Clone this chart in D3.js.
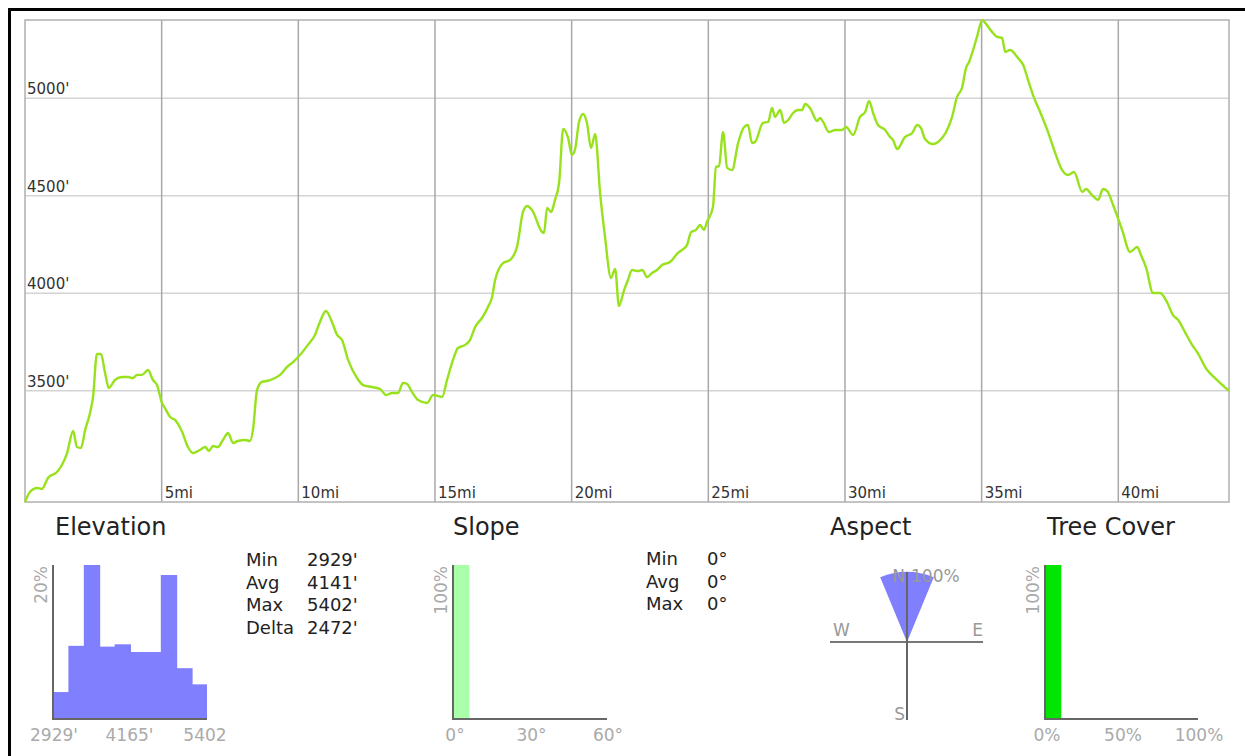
<!DOCTYPE html>
<html>
<head>
<meta charset="utf-8">
<script src="https://cdn.jsdelivr.net/npm/d3@7"></script>
<style>
  body { margin: 0; background: #fff; }
  svg { display: block; font-family: "DejaVu Sans", sans-serif; }
</style>
</head>
<body>
<svg id="chart" width="1245" height="756"></svg>
<script>
// elevation profile (miles, feet)
const distMi = [0.00,0.18,0.44,0.62,0.84,1.17,1.35,1.54,1.76,1.90,2.05,2.20,2.38,2.49,2.63,2.78,2.93,3.07,3.29,3.55,3.77,3.95,4.10,4.28,4.50,4.68,4.83,5.01,5.12,5.31,5.49,5.75,5.96,6.15,6.40,6.59,6.73,6.88,7.06,7.24,7.43,7.61,7.79,8.05,8.23,8.34,8.49,8.67,8.85,9.07,9.33,9.59,9.81,10.06,10.35,10.61,10.79,11.01,11.23,11.42,11.60,11.82,12.15,12.37,12.70,12.99,13.21,13.43,13.65,13.83,13.98,14.16,14.38,14.71,14.93,15.26,15.44,15.66,15.84,16.10,16.28,16.47,16.72,16.94,17.09,17.20,17.49,17.75,18.00,18.22,18.37,18.55,18.92,18.99,19.10,19.25,19.39,19.54,19.69,19.87,20.01,20.12,20.27,20.42,20.56,20.71,20.86,21.04,21.22,21.44,21.59,21.73,21.92,22.06,22.21,22.43,22.58,22.76,22.94,23.12,23.31,23.60,23.89,24.08,24.22,24.37,24.55,24.70,24.84,24.95,25.17,25.28,25.39,25.54,25.69,25.87,26.09,26.31,26.45,26.60,26.71,27.00,27.19,27.33,27.44,27.63,27.77,27.92,28.10,28.28,28.43,28.54,28.72,28.98,29.09,29.20,29.42,29.64,29.89,30.04,30.30,30.55,30.74,30.88,31.03,31.21,31.47,31.65,31.76,31.91,32.20,32.46,32.64,32.78,32.93,33.22,33.48,33.70,33.92,34.10,34.28,34.43,34.54,34.83,35.02,35.13,35.38,35.57,35.75,35.86,36.04,36.33,36.52,36.70,36.88,37.14,37.43,37.69,37.94,38.16,38.38,38.68,38.82,39.04,39.26,39.44,39.59,39.81,40.14,40.43,40.69,40.83,41.02,41.27,41.53,41.78,42.00,42.19,42.44,42.70,42.88,43.25,43.54,44.05];
const elevFt = [2929,2980,3001,2996,3052,3083,3119,3180,3293,3211,3206,3298,3386,3468,3688,3688,3591,3514,3555,3570,3570,3565,3581,3581,3606,3555,3529,3437,3411,3365,3350,3288,3211,3180,3196,3211,3191,3216,3211,3247,3283,3232,3242,3247,3242,3298,3504,3545,3550,3560,3581,3622,3647,3683,3735,3786,3853,3909,3853,3786,3760,3658,3565,3529,3519,3509,3478,3488,3488,3540,3534,3493,3452,3437,3478,3468,3555,3658,3719,3735,3760,3827,3873,3930,3981,4068,4155,4171,4237,4417,4448,4427,4314,4309,4438,4417,4479,4566,4843,4797,4710,4735,4879,4920,4874,4745,4817,4515,4289,4078,4125,3935,4017,4068,4119,4114,4119,4083,4104,4119,4145,4160,4207,4227,4248,4314,4325,4350,4325,4366,4443,4648,4653,4827,4643,4632,4771,4853,4863,4771,4776,4874,4879,4951,4905,4940,4874,4889,4925,4940,4940,4971,4951,4884,4899,4879,4827,4838,4838,4853,4812,4905,4930,4987,4925,4863,4838,4802,4786,4740,4802,4822,4863,4848,4792,4766,4786,4827,4905,5007,5053,5156,5187,5315,5402,5387,5341,5315,5310,5238,5248,5207,5171,5094,5017,4930,4827,4720,4633,4607,4622,4520,4535,4504,4479,4535,4525,4453,4325,4212,4237,4196,4130,4001,4001,3955,3888,3863,3801,3735,3699,3606,3565,3499];

const mileTicks = [5, 10, 15, 20, 25, 30, 35, 40];
const feetTicks = [3500, 4000, 4500, 5000];

// summary panels
const elevHistPct = [3.5, 9.5, 20.0, 9.4, 9.7, 8.7, 8.7, 18.7, 6.6, 4.5];
const elevHistLabels = ["2929'", "4165'", "5402"];
const elevStats = [["Min", "2929'"], ["Avg", "4141'"], ["Max", "5402'"], ["Delta", "2472'"]];

const slopeHistPct = [100, 0, 0, 0, 0, 0, 0, 0, 0, 0];
const slopeTicks = [0, 30, 60];
const slopeStats = [["Min", "0°"], ["Avg", "0°"], ["Max", "0°"]];

const aspectDirs = ["N", "NE", "E", "SE", "S", "SW", "W", "NW"];
const aspectPct = [100, 0, 0, 0, 0, 0, 0, 0];

const treeHistPct = [100, 0, 0, 0, 0, 0, 0, 0, 0, 0];
const treeTicks = [0, 50, 100];

const svg = d3.select("#chart");

// outer frame
svg.append("path")
    .attr("d", "M9.5,757 L9.5,9.5 L1246,9.5")
    .attr("fill", "none")
    .attr("stroke", "#000")
    .attr("stroke-width", 3);

// ---- elevation profile ----
const x = d3.scaleLinear().domain([0, 44.05]).range([25, 1229]);
const y = d3.scaleLinear().domain([2929, 5402]).range([502, 20]);

const plot = svg.append("g");

plot.selectAll(".hgrid")
    .data(feetTicks)
    .enter().append("line")
    .attr("x1", x(0)).attr("x2", x(44.05))
    .attr("y1", d => y(d)).attr("y2", d => y(d))
    .attr("stroke", "#d4d4d4")
    .attr("stroke-width", 1.5);

plot.selectAll(".vgrid")
    .data(mileTicks)
    .enter().append("line")
    .attr("x1", d => x(d)).attr("x2", d => x(d))
    .attr("y1", y(5402)).attr("y2", y(2929))
    .attr("stroke", "#a8a8a8")
    .attr("stroke-width", 1.5);

plot.append("rect")
    .attr("x", x(0)).attr("y", y(5402))
    .attr("width", x(44.05) - x(0))
    .attr("height", y(2929) - y(5402))
    .attr("fill", "none")
    .attr("stroke", "#b0b0b0")
    .attr("stroke-width", 1.5);

plot.selectAll(".ylab")
    .data(feetTicks)
    .enter().append("text")
    .attr("x", x(0) + 2)
    .attr("y", d => y(d) - 4)
    .attr("font-size", 15)
    .attr("fill", "#333")
    .text(d => d + "'");

plot.selectAll(".xlab")
    .data(mileTicks)
    .enter().append("text")
    .attr("x", d => x(d) + 3)
    .attr("y", y(2929) - 4)
    .attr("font-size", 15)
    .attr("fill", "#333")
    .text(d => d + "mi");

const line = d3.line()
    .x((d, i) => x(distMi[i]))
    .y(d => y(d))
    .curve(d3.curveMonotoneX);

plot.append("path")
    .datum(elevFt)
    .attr("fill", "none")
    .attr("stroke", "#97e21c")
    .attr("stroke-width", 2.4)
    .attr("stroke-linejoin", "round")
    .attr("d", line);

// ---- helpers for small panels ----
function title(px, text) {
    svg.append("text")
        .attr("x", px).attr("y", 535)
        .attr("font-size", 24)
        .attr("fill", "#222")
        .text(text);
}

function statsTable(lx, vx, y0, rows) {
    rows.forEach((r, i) => {
        svg.append("text").attr("x", lx).attr("y", y0 + i * 22.5)
            .attr("font-size", 18).attr("fill", "#222").text(r[0]);
        svg.append("text").attr("x", vx).attr("y", y0 + i * 22.5)
            .attr("font-size", 18).attr("fill", "#222").text(r[1]);
    });
}

function histogram(x0, x1, values, maxPct, color, yLabel) {
    const bx = d3.scaleLinear().domain([0, values.length]).range([x0, x1]);
    const by = d3.scaleLinear().domain([0, maxPct]).range([719, 565]);
    const g = svg.append("g");
    g.selectAll("rect")
        .data(values)
        .enter().append("rect")
        .attr("x", (d, i) => bx(i))
        .attr("y", d => by(d))
        .attr("width", (d, i) => i === values.length - 1 ? bx(1) - bx(0) : bx(1) - bx(0) + 1)
        .attr("height", d => by(0) - by(d))
        .attr("fill", color);
    g.append("path")
        .attr("d", `M${x0},${by(maxPct)} L${x0},${by(0)} L${x1},${by(0)}`)
        .attr("fill", "none")
        .attr("stroke", "#666")
        .attr("stroke-width", 2);
    g.append("text")
        .attr("transform", `translate(${x0 - 6},${by(maxPct) + 1}) rotate(-90)`)
        .attr("text-anchor", "end")
        .attr("font-size", 17)
        .attr("fill", "#aaa")
        .text(yLabel);
    return bx;
}

function xLabels(scale, ticks, fmt) {
    svg.selectAll(null)
        .data(ticks)
        .enter().append("text")
        .attr("x", d => scale(d))
        .attr("y", 741)
        .attr("text-anchor", "middle")
        .attr("font-size", 17)
        .attr("fill", "#aaa")
        .text(fmt);
}

// ---- Elevation panel ----
title(55, "Elevation");
histogram(53, 207, elevHistPct, d3.max(elevHistPct), "#8080ff", "20%");
const elevLab = d3.scaleLinear().domain([0, 2]).range([54, 205]);
xLabels(elevLab, [0, 1, 2], d => elevHistLabels[d]);
statsTable(246, 307, 566, elevStats);

// ---- Slope panel ----
title(453, "Slope");
histogram(453, 607, slopeHistPct, 100, "#aaffaa", "100%");
const slopeX = d3.scaleLinear().domain([0, 60]).range([455, 608]);
xLabels(slopeX, slopeTicks, d => d + "°");
statsTable(646, 707, 565, slopeStats);

// ---- Aspect panel ----
title(830, "Aspect");
const cx = 907, cy = 642;
const r = d3.scaleLinear().domain([0, 100]).range([0, 70]);
const arc = d3.arc().innerRadius(0);
const step = 2 * Math.PI / aspectDirs.length;
svg.append("g")
    .attr("transform", `translate(${cx},${cy})`)
    .selectAll("path")
    .data(aspectPct)
    .enter().append("path")
    .attr("d", (d, i) => arc({ outerRadius: r(d), startAngle: i * step - step / 2, endAngle: i * step + step / 2 }))
    .attr("fill", "#8080ff");
svg.append("line")
    .attr("x1", cx - 77).attr("x2", cx + 76)
    .attr("y1", cy).attr("y2", cy)
    .attr("stroke", "#777").attr("stroke-width", 2);
svg.append("line")
    .attr("x1", cx).attr("x2", cx)
    .attr("y1", cy - r(100)).attr("y2", cy + 78)
    .attr("stroke", "#666").attr("stroke-width", 2);
const aspectLabel = (tx, ty, anchor, t) => svg.append("text")
    .attr("x", tx).attr("y", ty)
    .attr("text-anchor", anchor)
    .attr("font-size", 17)
    .attr("fill", "#999")
    .text(t);
aspectLabel(cx - 2, cy - 60, "end", "N");
aspectLabel(cx + 4, cy - 60, "start", d3.max(aspectPct) + "%");
aspectLabel(cx - 74, cy - 6, "start", "W");
aspectLabel(cx + 76, cy - 6, "end", "E");
aspectLabel(cx - 2, cy + 78, "end", "S");

// ---- Tree Cover panel ----
title(1047, "Tree Cover");
histogram(1045, 1198, treeHistPct, 100, "#00e600", "100%");
const treeX = d3.scaleLinear().domain([0, 100]).range([1047, 1199]);
xLabels(treeX, treeTicks, d => d + "%");
</script>
</body>
</html>
